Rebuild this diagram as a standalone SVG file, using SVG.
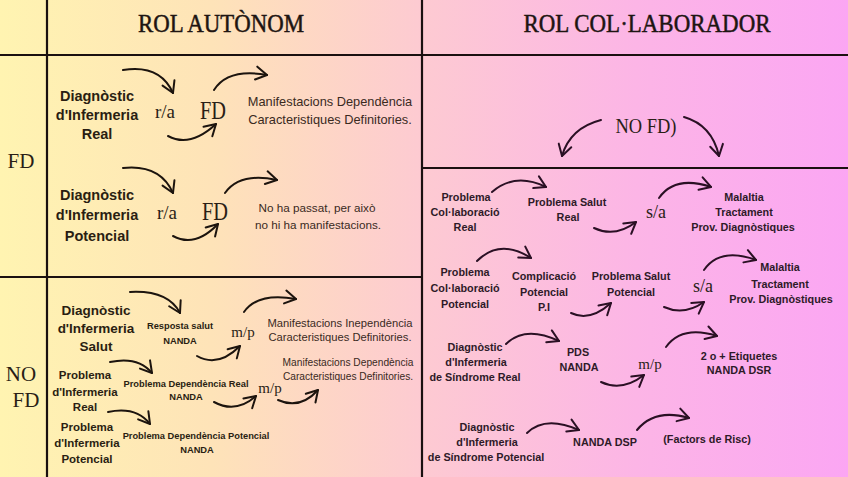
<svg xmlns="http://www.w3.org/2000/svg" width="848" height="477" viewBox="0 0 848 477">
<defs>
<linearGradient id="bg" x1="0" y1="0" x2="1" y2="0">
<stop offset="0" stop-color="#fff4b1"/>
<stop offset="0.25" stop-color="#fee3b8"/>
<stop offset="0.5" stop-color="#fdcad2"/>
<stop offset="0.75" stop-color="#fcb5e6"/>
<stop offset="1" stop-color="#fba6f3"/>
</linearGradient>
<marker id="ahL" markerUnits="userSpaceOnUse" viewBox="-13 -9 15 18" markerWidth="15" markerHeight="18" refX="0" refY="0" orient="auto">
<path d="M-11,-6.5 L0,0 L-11,6.5" fill="none" stroke="#1c140e" stroke-width="2" stroke-linecap="round" stroke-linejoin="round"/>
</marker>
<marker id="ahR" markerUnits="userSpaceOnUse" viewBox="-13 -9 15 18" markerWidth="15" markerHeight="18" refX="0" refY="0" orient="auto">
<path d="M-11,-6.5 L0,0 L-11,6.5" fill="none" stroke="#2a1024" stroke-width="2" stroke-linecap="round" stroke-linejoin="round"/>
</marker>
</defs>
<style>
text{text-anchor:middle}
.ttl{font-family:"Liberation Serif","DejaVu Serif",serif;font-size:26px;fill:#1e1512;stroke:#1e1512;stroke-width:0.5}
.ser{font-family:"Liberation Serif","DejaVu Serif",serif;fill:#2a1e16}
.d{font-family:"Liberation Sans",Arial,sans-serif;font-weight:bold;fill:#2a1e12}
.m{font-family:"Liberation Sans",Arial,sans-serif;fill:#3a2a1e}
.r{font-family:"Liberation Sans",Arial,sans-serif;font-weight:bold;font-size:10.8px;fill:#2e1a28}
.aL{fill:none;stroke:#1c140e;stroke-width:2;stroke-linecap:round;marker-end:url(#ahL)}
.aR{fill:none;stroke:#2a1024;stroke-width:2;stroke-linecap:round;marker-end:url(#ahR)}
.ln{stroke:#1a1010;stroke-width:2.2;fill:none}
</style>
<rect x="0" y="0" width="848" height="477" fill="url(#bg)"/>
<g id="grid">
<line class="ln" x1="47" y1="0" x2="47" y2="477"/>
<line class="ln" x1="422" y1="0" x2="422" y2="477"/>
<line class="ln" x1="0" y1="55" x2="848" y2="55"/>
<line class="ln" x1="0" y1="277" x2="422" y2="277"/>
<line class="ln" x1="422" y1="168" x2="848" y2="168"/>
</g>
<g id="headers">
<text class="ttl" x="221" y="32" textLength="166" lengthAdjust="spacingAndGlyphs">ROL AUTÒNOM</text>
<text class="ttl" x="647" y="32" textLength="247" lengthAdjust="spacingAndGlyphs">ROL COL·LABORADOR</text>
<text class="ser" x="21" y="168" font-size="21">FD</text>
<text class="ser" x="21" y="381" font-size="21">NO</text>
<text class="ser" x="26" y="407" font-size="21">FD</text>
</g>
<g id="connectors">
<path class="aL" d="M123,70 Q160,64 173,93"/>
<path class="aL" d="M168,136 Q190,148 216,124"/>
<path class="aL" d="M214,90 Q228,68 267,75"/>
<path class="aL" d="M123,168 Q160,164 173,193"/>
<path class="aL" d="M173,236 Q195,248 218,224"/>
<path class="aL" d="M225,193 Q240,172 277,180"/>
<path class="aL" d="M130,292 Q168,290 180,313"/>
<path class="aL" d="M197,356 Q218,368 240,346"/>
<path class="aL" d="M244,312 Q258,292 296,299"/>
<path class="aL" d="M110,362 Q138,356 152,373"/>
<path class="aL" d="M214,402 Q236,414 256,396"/>
<path class="aL" d="M278,400 Q300,410 318,390"/>
<path class="aL" d="M108,412 Q136,406 150,424"/>
<path class="aR" d="M601,120 Q570,128 562,156"/>
<path class="aR" d="M684,117 Q712,125 719,156"/>
<path class="aR" d="M492,192 Q515,172 546,187"/>
<path class="aR" d="M594,228 Q615,238 636,222"/>
<path class="aR" d="M659,198 Q675,175 711,187"/>
<path class="aR" d="M477,261 Q500,238 531,258"/>
<path class="aR" d="M571,313 Q590,322 611,303"/>
<path class="aR" d="M664,307 Q684,316 704,302"/>
<path class="aR" d="M704,270 Q720,247 756,260"/>
<path class="aR" d="M506,344 Q525,325 559,341"/>
<path class="aR" d="M601,382 Q622,392 644,375"/>
<path class="aR" d="M666,347 Q682,325 717,336"/>
<path class="aR" d="M527,433 Q545,415 579,430"/>
<path class="aR" d="M637,430 Q655,408 689,418"/>
</g>
<g id="diag-real">
<text class="d" font-size="14.5" x="97" y="101">Diagnòstic</text>
<text class="d" font-size="14.5" x="97" y="120">d'Infermeria</text>
<text class="d" font-size="14.5" x="97" y="139">Real</text>
</g>
<g id="ra-1"><text class="ser" font-size="19" x="165" y="118">r/a</text></g>
<g id="fd-1"><text class="ser" font-size="26" x="213" y="119" textLength="26" lengthAdjust="spacingAndGlyphs">FD</text></g>
<g id="manif-1">
<text class="m" font-size="12.8" x="330" y="106">Manifestacions Dependència</text>
<text class="m" font-size="12.8" x="330" y="124">Caracteristiques Definitories.</text>
</g>
<g id="diag-potencial">
<text class="d" font-size="14.5" x="97" y="200">Diagnòstic</text>
<text class="d" font-size="14.5" x="97" y="220">d'Infermeria</text>
<text class="d" font-size="14.5" x="97" y="241">Potencial</text>
</g>
<g id="ra-2"><text class="ser" font-size="19" x="167" y="219">r/a</text></g>
<g id="fd-2"><text class="ser" font-size="26" x="215" y="220" textLength="26" lengthAdjust="spacingAndGlyphs">FD</text></g>
<g id="no-manif">
<text class="m" font-size="11.7" x="317" y="212">No ha passat, per això</text>
<text class="m" font-size="11.7" x="318" y="229">no hi ha manifestacions.</text>
</g>
<g id="diag-salut">
<text class="d" font-size="13.5" x="96" y="315">Diagnòstic</text>
<text class="d" font-size="13.5" x="96" y="333">d'Infermeria</text>
<text class="d" font-size="13.5" x="96" y="351">Salut</text>
</g>
<g id="resposta">
<text class="d" font-size="9.3" x="180" y="329">Resposta salut</text>
<text class="d" font-size="9.3" x="180" y="344">NANDA</text>
</g>
<g id="mp-1"><text class="ser" font-size="15" x="243" y="337">m/p</text></g>
<g id="manif-ind">
<text class="m" font-size="11.2" x="340" y="327">Manifestacions Inependència</text>
<text class="m" font-size="11.2" x="340" y="341">Caracteristiques Definitories.</text>
</g>
<g id="manif-dep">
<text class="m" font-size="10.2" x="348" y="366">Manifestacions Dependència</text>
<text class="m" font-size="10.2" x="348" y="380">Caracteristiques Definitories.</text>
</g>
<g id="prob-inf-real">
<text class="d" font-size="11.5" x="85" y="379">Problema</text>
<text class="d" font-size="11.5" x="85" y="396">d'Infermeria</text>
<text class="d" font-size="11.5" x="85" y="411">Real</text>
</g>
<g id="prob-dep-real">
<text class="d" font-size="9.3" x="186" y="387">Problema Dependència Real</text>
<text class="d" font-size="9.3" x="186" y="400">NANDA</text>
</g>
<g id="mp-2"><text class="ser" font-size="15" x="270" y="393">m/p</text></g>
<g id="prob-inf-pot">
<text class="d" font-size="11.5" x="87" y="431">Problema</text>
<text class="d" font-size="11.5" x="87" y="447">d'Infermeria</text>
<text class="d" font-size="11.5" x="87" y="463">Potencial</text>
</g>
<g id="prob-dep-pot">
<text class="d" font-size="9.3" x="196" y="439">Problema Dependència Potencial</text>
<text class="d" font-size="9.3" x="197" y="453">NANDA</text>
</g>
<g id="nofd"><text class="ser" font-size="21" x="646" y="133" textLength="61" lengthAdjust="spacingAndGlyphs">NO FD)</text></g>
<g id="pc-real">
<text class="r" x="466" y="201">Problema</text>
<text class="r" x="465" y="216">Col·laboració</text>
<text class="r" x="465" y="231">Real</text>
</g>
<g id="ps-real">
<text class="r" x="567" y="206">Problema Salut</text>
<text class="r" x="568" y="221">Real</text>
</g>
<g id="sa-1"><text class="ser" font-size="18" x="656" y="218">s/a</text></g>
<g id="malaltia-1">
<text class="r" x="744" y="201">Malaltia</text>
<text class="r" x="744" y="216">Tractament</text>
<text class="r" x="743" y="231">Prov. Diagnòstiques</text>
</g>
<g id="pc-pot">
<text class="r" x="465" y="276">Problema</text>
<text class="r" x="465" y="292">Col·laboració</text>
<text class="r" x="465" y="308">Potencial</text>
</g>
<g id="complicacio">
<text class="r" x="544" y="280">Complicació</text>
<text class="r" x="544" y="296">Potencial</text>
<text class="r" x="544" y="311">P.I</text>
</g>
<g id="ps-pot">
<text class="r" x="631" y="280">Problema Salut</text>
<text class="r" x="631" y="296">Potencial</text>
</g>
<g id="sa-2"><text class="ser" font-size="18" x="703" y="292">s/a</text></g>
<g id="malaltia-2">
<text class="r" x="780" y="271">Malaltia</text>
<text class="r" x="780" y="288">Tractament</text>
<text class="r" x="781" y="303">Prov. Diagnòstiques</text>
</g>
<g id="dsr">
<text class="r" x="475" y="351">Diagnòstic</text>
<text class="r" x="476" y="366">d'Infermeria</text>
<text class="r" x="475" y="381">de Síndrome Real</text>
</g>
<g id="pds">
<text class="r" x="578" y="356">PDS</text>
<text class="r" x="579" y="371">NANDA</text>
</g>
<g id="mp-3"><text class="ser" font-size="15" x="650" y="369">m/p</text></g>
<g id="etiquetes">
<text class="r" x="739" y="360" font-size="11.5">2 o + Etiquetes</text>
<text class="r" x="739" y="374" font-size="11.5">NANDA DSR</text>
</g>
<g id="dsp">
<text class="r" x="487" y="431">Diagnòstic</text>
<text class="r" x="487" y="446">d'Infermeria</text>
<text class="r" x="486" y="461">de Síndrome Potencial</text>
</g>
<g id="nanda-dsp"><text class="r" x="605" y="446" font-size="9.5">NANDA DSP</text></g>
<g id="factors"><text class="r" x="707" y="443">(Factors de Risc)</text></g>
</svg>
